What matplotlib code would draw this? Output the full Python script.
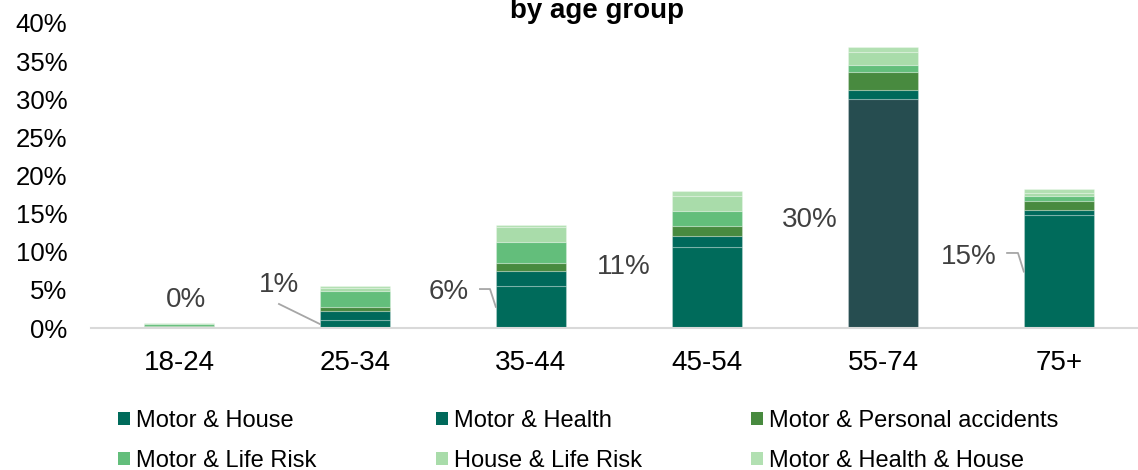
import matplotlib.pyplot as plt
from matplotlib.patches import Patch

plt.rcParams['font.family'] = ['Liberation Sans', 'DejaVu Sans']

# age groups and stacked shares (%)
categories = ['18-24', '25-34', '35-44', '45-54', '55-74', '75+']
motor_house = [0.1, 1.05, 5.55, 10.6, 30.05, 14.8]
motor_health = [0.05, 1.2, 1.9, 1.5, 1.2, 0.7]
motor_personal = [0.05, 0.5, 1.05, 1.3, 2.3, 1.1]
motor_life = [0.35, 2.1, 2.75, 2.0, 1.0, 0.7]
house_life = [0.1, 0.35, 2.0, 1.9, 1.6, 0.45]
motor_health_house = [0.05, 0.3, 0.2, 0.7, 0.7, 0.45]

series_names = ['Motor & House', 'Motor & Health', 'Motor & Personal accidents',
                'Motor & Life Risk', 'House & Life Risk', 'Motor & Health & House']
series_values = [motor_house, motor_health, motor_personal,
                 motor_life, house_life, motor_health_house]
series_colors = ['#006B5B', '#00695B', '#488A3F', '#63BE7B', '#A9DCAA', '#B2E0B2']
highlight_idx = 4
highlight_color = '#264D50'

# label placement (offset from bar centre, height in %)
label_dx = [0.04, -0.432, -0.466, -0.474, -0.418, -0.51]
label_y = [3.67, 5.64, 4.72, 8.0, 14.16, 9.31]
# leader lines: points relative to bar centre before the bar edge
leaders = {
    1: [(-0.432, 3.15)],
    2: [(-0.29, 5.11), (-0.233, 5.11)],
    5: [(-0.295, 9.84), (-0.233, 9.84)],
}

fig = plt.figure(figsize=(11.38, 4.70), dpi=100)
ax = fig.add_axes([91 / 1138, 142 / 470, 1056 / 1138, 305 / 470])

x = list(range(len(categories)))
width = 0.4
bottom = [0.0] * len(categories)
edge = (1, 1, 1, 0.25)
for k, (vals, col) in enumerate(zip(series_values, series_colors)):
    colors = [col] * len(categories)
    if k == 0:
        colors[highlight_idx] = highlight_color
    ax.bar(x, vals, width, bottom=bottom, color=colors, edgecolor=edge, linewidth=0.8)
    bottom = [b + v for b, v in zip(bottom, vals)]

# data labels for Motor & House
for i, v in enumerate(motor_house):
    ax.text(i + label_dx[i], label_y[i], f'{v:.0f}%', ha='center', va='center',
            fontsize=20, color='#404040')
    if i in leaders:
        pts = [(i + dx, yy) for dx, yy in leaders[i]] + [(i - width / 2, v / 2)]
        ax.plot([p[0] for p in pts], [p[1] for p in pts], color='#A6A6A6', lw=1.3)

ax.set_xlim(-0.5, 5.5)
ax.set_ylim(0, 40)
ax.set_xticks(x)
ax.set_xticklabels(categories, fontsize=20)
ax.set_yticks(range(0, 41, 5))
ax.set_yticklabels([f'{t}%' for t in range(0, 41, 5)], fontsize=18.5)
ax.tick_params(axis='both', length=0)
ax.tick_params(axis='y', pad=17)
ax.tick_params(axis='x', pad=16)
for s in ['top', 'right', 'left']:
    ax.spines[s].set_visible(False)
ax.spines['bottom'].set_color('#D9D9D9')
ax.spines['bottom'].set_linewidth(1.5)

fig.text(597.5 / 1138, 1 - 17.5 / 470, 'by age group', ha='center', va='baseline',
         fontsize=20, fontweight='bold')

# legend, one column at a time (row-major order like the original)
handles = [Patch(facecolor=c, edgecolor='none', label=n)
           for n, c in zip(series_names, series_colors)]
col_x = [118, 436, 751]
for c in range(3):
    fig.legend(handles=[handles[c], handles[c + 3]], loc='center left',
               bbox_to_anchor=(col_x[c] / 1138, 1 - 441 / 470),
               frameon=False, fontsize=17, handlelength=0.5, handleheight=0.5,
               handletextpad=0.25, borderpad=0, borderaxespad=0, labelspacing=0.75)

fig.savefig('out.png', dpi=100)
